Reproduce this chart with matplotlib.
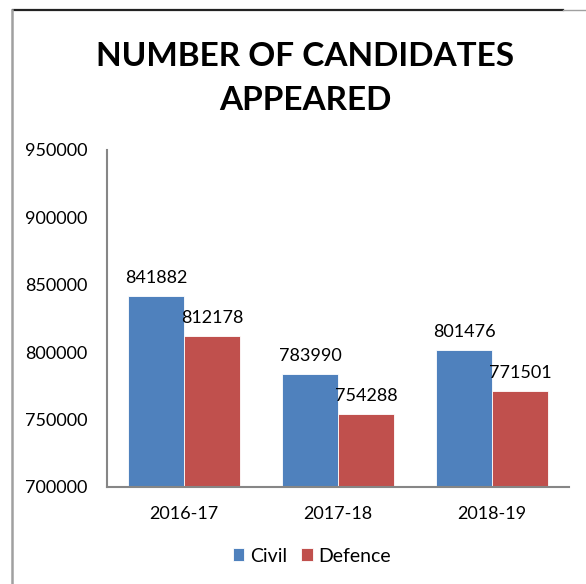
import matplotlib.pyplot as plt
from matplotlib.lines import Line2D
import numpy as np

# 数据
years = ['2016-17', '2017-18', '2018-19']
civil = [841882, 783990, 801476]
defence = [812178, 754288, 771501]
series_names = ['Civil', 'Defence']
colors = ['#4F81BD', '#C0504D']

plt.rcParams['font.family'] = ['Lato', 'DejaVu Sans']

W, H = 586, 584
fig = plt.figure(figsize=(W / 100, H / 100), dpi=100)

# 绘图区域（像素换算成比例）
left, right, top, bottom = 107, 569, 150, 487
ax = fig.add_axes([left / W, 1 - bottom / H, (right - left) / W, (bottom - top) / H])

fs = 13
x = np.arange(len(years))
bw = 56 / 154
for k, (vals, name) in enumerate(zip([civil, defence], series_names)):
    pos = x + (k - 0.5) * bw
    ax.bar(pos, vals, width=bw, color=colors[k], label=name,
           edgecolor='white', linewidth=0.6)
    for p, v in zip(pos, vals):
        ax.annotate(str(v), (p, v), xytext=(0, 7), textcoords='offset points',
                    ha='center', va='bottom', fontsize=fs)

ax.set_xlim(-0.5, 2.5)
ax.set_ylim(700000, 950000)
ax.set_yticks(range(700000, 950001, 50000))
ax.set_xticks(x)
ax.set_xticklabels(years)
ax.tick_params(axis='both', length=0, labelsize=fs)
ax.tick_params(axis='y', pad=14)
ax.tick_params(axis='x', pad=14)
for s in ['top', 'right']:
    ax.spines[s].set_visible(False)
for s in ['left', 'bottom']:
    ax.spines[s].set_color('#868686')
    ax.spines[s].set_linewidth(1.5)

# 标题
fig.text(305 / W, 1 - 56 / H, 'NUMBER OF CANDIDATES', ha='center', va='center',
         fontsize=24, fontweight='bold')
fig.text(305 / W, 1 - 101 / H, 'APPEARED', ha='center', va='center',
         fontsize=24, fontweight='bold')

# 图例
fig.legend(loc='center', bbox_to_anchor=(312 / W, 1 - 556 / H), ncol=2, frameon=False,
           fontsize=14, handlelength=0.6, handleheight=0.6, handletextpad=0.3,
           columnspacing=0.7)

# 外框线
fig.add_artist(Line2D([13 / W, 563 / W], [1 - 10 / H, 1 - 10 / H], color='#222222', lw=1.6))
fig.add_artist(Line2D([563 / W, 1], [1 - 10 / H, 1 - 10 / H], color='#a0a0a0', lw=1.0))
fig.add_artist(Line2D([12 / W, 12 / W], [0, 1 - 10 / H], color='#a0a0a0', lw=1.8))

fig.savefig('out.png', dpi=100)
